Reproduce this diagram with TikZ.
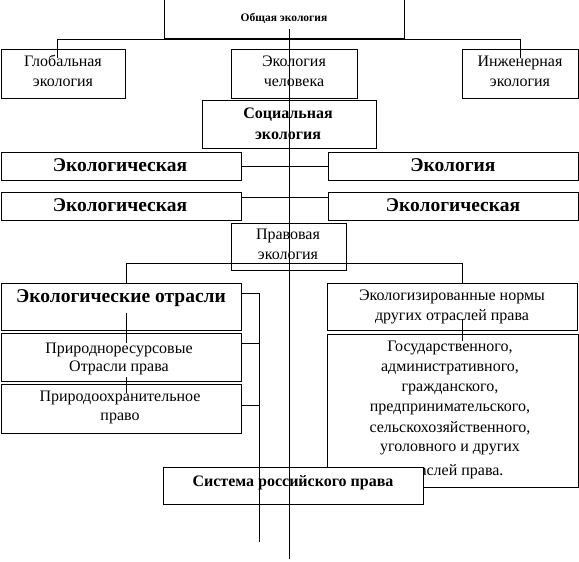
\documentclass[tikz,border=0pt]{standalone}
\usepackage{fontspec}
\setmainfont{Liberation Serif}
\begin{document}
\begin{tikzpicture}[x=1pt,y=-1pt,
  box/.style 2 args={draw, line width=1pt, inner sep=0pt, minimum width=#1, minimum height=#2},
  rg/.style={font=\fontsize{16}{20}\selectfont, inner sep=0pt, text height=11pt, text depth=3.5pt},
  bs/.style={font=\bfseries\fontsize{11.5}{14}\selectfont, inner sep=0pt, text height=8pt, text depth=2.5pt},
  bm/.style={font=\bfseries\fontsize{16}{20}\selectfont, inner sep=0pt, text height=11.5pt, text depth=3.5pt},
  bl/.style={font=\bfseries\fontsize{19.5}{23}\selectfont, inner sep=0pt, text height=13.5pt, text depth=4pt},
  ln/.style={line width=1pt}]
\useasboundingbox (0,0) rectangle (579,562);
% boxes
\node[box={240pt}{40pt}] (gen) at (284,18) {};
\node[box={124pt}{49pt}] (glob) at (63,73.5) {};
\node[box={126pt}{49pt}] (chel) at (294,73.5) {};
\node[box={116pt}{49pt}] (ing) at (520,73.5) {};
\node[box={174pt}{48pt}] (soc) at (289,124) {};
\node[box={240pt}{28pt}] (ea) at (121,166) {};
\node[box={250pt}{28pt}] (eb) at (453,166) {};
\node[box={240pt}{28pt}] (ec) at (121,206) {};
\node[box={250pt}{28pt}] (ed) at (453,206) {};
\node[box={115pt}{47pt}] (prav) at (288.5,246.5) {};
\node[box={240pt}{47pt}] (otr) at (121,306.5) {};
\node[box={240pt}{48pt}] (prir) at (121,357) {};
\node[box={240pt}{49pt}] (ohr) at (121,408.5) {};
\node[box={250pt}{47pt}] (norm) at (452,306.5) {};
\node[box={251pt}{153pt}] (gos) at (452.5,410.5) {};
% texts
\node[bs] (tgen) at (284,19) {Общая экология};
\node[rg] (tglob1) at (63,63) {Глобальная};
\node[rg] (tglob2) at (63,83) {экология};
\node[rg] (tchel1) at (294,63) {Экология};
\node[rg] (tchel2) at (294,83) {человека};
\node[rg] (ting1) at (520,63) {Инженерная};
\node[rg] (ting2) at (520,83) {экология};
\node[bm] (tsoc1) at (288,114) {Социальная};
\node[bm] (tsoc2) at (288,135) {экология};
\node[bl] (tea) at (120,167) {Экологическая};
\node[bl] (teb) at (453,167) {Экология};
\node[bl] (tec) at (120,207) {Экологическая};
\node[bl] (ted) at (453,207) {Экологическая};
\node[rg] (tprav1) at (288,236) {Правовая};
\node[rg] (tprav2) at (288,256) {экология};
\node[bl] (totr) at (121,298) {Экологические отрасли};
\node[rg] (tprir1) at (119,350) {Природноресурсовые};
\node[rg] (tprir2) at (119,368) {Отрасли права};
\node[rg] (tohr1) at (120,398) {Природоохранительное};
\node[rg] (tohr2) at (120,417) {право};
\node[rg] (tnorm1) at (452,297) {Экологизированные нормы};
\node[rg] (tnorm2) at (452,317) {других отраслей права};
\node[rg] (tg1) at (450,348) {Государственного,};
\node[rg] (tg2) at (450,368) {административного,};
\node[rg] (tg3) at (450,388) {гражданского,};
\node[rg] (tg4) at (450,408) {предпринимательского,};
\node[rg] (tg5) at (450,429) {сельскохозяйственного,};
\node[rg] (tg6) at (450,448) {уголовного и других};
\node[rg] (tg7) at (450,472) {отраслей права.};
% system box on top
\node[box={260pt}{37pt}, fill=white] (sys) at (293,485.5) {};
\node[bm] (tsys) at (293,482) {Система российского права};
% connectors
\coordinate (mt) at (289,29);
\coordinate (mb) at (289,559);
\draw[ln] (mt) -- (mb);
\draw[ln] (glob.north -| 57,0) ++(0,9) |- (520,39) -- (520,58);
\draw[ln] (ea) -- (eb);
\draw[ln] (ec.east |- 0,197) -- (ed.west |- 0,197);
\draw[ln] (otr.north -| 126,0) |- (462,263) -- (norm.north -| 462,0);
\draw[ln] (126,313) -- (126,343);
\draw[ln] (126,377) -- (126,393);
\draw[ln] (462,319) -- (462,341);
\coordinate (bb) at (259,542);
\draw[ln] (otr.east |- 0,293) -- (259,293) -- (bb);
\draw[ln] (prir.east |- 0,343) -- (259,343);
\draw[ln] (ohr.east |- 0,405) -- (259,405);
\end{tikzpicture}
\end{document}
